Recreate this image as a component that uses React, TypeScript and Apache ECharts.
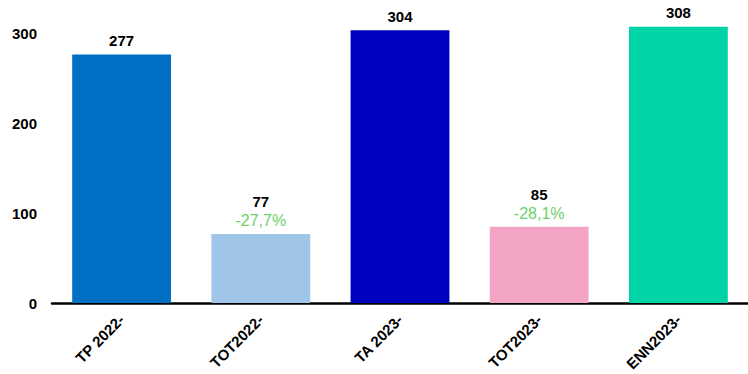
import React, { useEffect, useRef } from "react";
import * as echarts from "echarts";

const categories = ["TP 2022-", "TOT2022-", "TA 2023-", "TOT2023-", "ENN2023-"];
const values = [277, 77, 304, 85, 308];
const changes = ["", "-27,7%", "", "-28,1%", ""];
const barColors = ["#0070C4", "#9FC5E8", "#0000BF", "#F4A5C5", "#00D4A6"];
const yTicks = [0, 100, 200, 300];

const FONT = "'Liberation Sans', Arial, sans-serif";

export default function App() {
  const ref = useRef<HTMLDivElement>(null);
  useEffect(() => {
    if (!ref.current) return;
    const chart = echarts.init(ref.current, null, { renderer: "svg" });
    chart.setOption({
      animation: false,
      backgroundColor: "#ffffff",
      grid: { left: 52, right: -5, top: 7, bottom: 71, containLabel: false },
      xAxis: {
        type: "category",
        data: categories,
        axisLine: { show: true, lineStyle: { color: "#000000", width: 2.5 } },
        axisTick: { show: false },
        axisLabel: {
          rotate: 45,
          interval: 0,
          margin: 14,
          color: "#000000",
          fontWeight: "bold",
          fontSize: 15,
          fontFamily: FONT,
        },
      },
      yAxis: {
        type: "value",
        min: 0,
        max: 330,
        interval: 100,
        axisLine: { show: false },
        axisTick: { show: false },
        splitLine: { show: false },
        axisLabel: {
          margin: 15,
          color: "#000000",
          fontWeight: "bold",
          fontSize: 15,
          fontFamily: FONT,
          showMaxLabel: false,
          formatter: (v: number) => (yTicks.includes(v) ? String(v) : ""),
        },
      },
      series: [
        {
          type: "bar",
          barCategoryGap: "29%",
          data: values.map((v, i) => ({
            value: v,
            itemStyle: { color: barColors[i] },
          })),
          label: {
            show: true,
            position: "top",
            distance: 4,
            fontFamily: FONT,
            lineHeight: 20,
            formatter: (p: any) => {
              const c = changes[p.dataIndex];
              return c ? `{v|${p.value}}\n{p|${c}}` : `{v|${p.value}}`;
            },
            rich: {
              v: {
                color: "#000000",
                fontWeight: "bold",
                fontSize: 15,
                fontFamily: FONT,
                lineHeight: 20,
              },
              p: {
                color: "#6BD06B",
                fontSize: 16,
                fontFamily: FONT,
                lineHeight: 18,
              },
            },
          },
        },
      ],
    });
    return () => chart.dispose();
  }, []);
  return (
    <div
      ref={ref}
      style={{ position: "absolute", left: 0, top: 0, width: 748, height: 374 }}
    />
  );
}
